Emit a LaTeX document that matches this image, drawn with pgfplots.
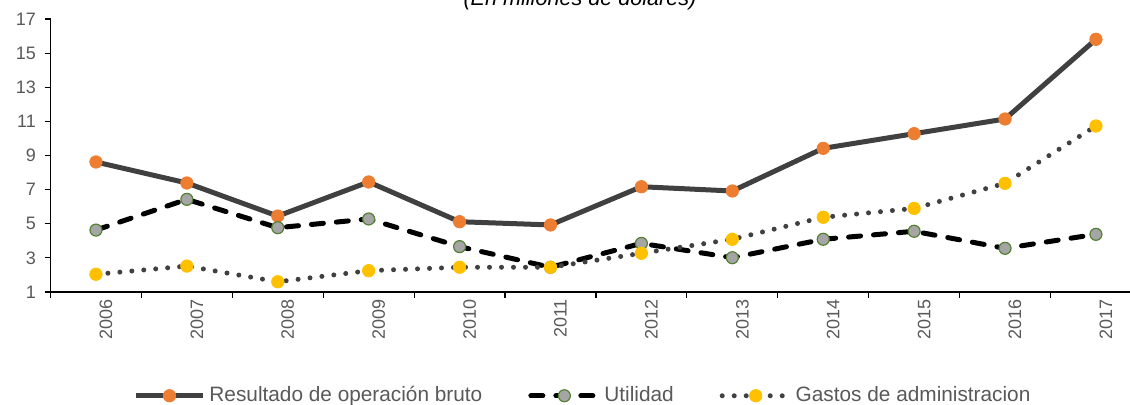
\documentclass[border=0pt]{standalone}
\usepackage{fontspec}
\setmainfont{Liberation Sans}
\usepackage{pgfplots}
\pgfplotsset{compat=1.18}
\definecolor{dk}{HTML}{404040}
\definecolor{txt}{HTML}{595959}
\definecolor{org}{HTML}{ED7D31}
\definecolor{gry}{HTML}{A5A5A5}
\definecolor{grn}{HTML}{548235}
\definecolor{yel}{HTML}{FFC000}
\begin{document}
\begin{tikzpicture}
\begin{axis}[
  name=ax, at={(0,0)}, anchor=south west,
  scale only axis, width=545.45pt, height=136.5pt,
  xmin=-0.5, xmax=11.5, ymin=1, ymax=17,
  axis lines*=left,
  axis line style={black, line width=0.6pt, -},
  tick align=outside,
  major tick length=2.8pt,
  tick style={black, line width=0.6pt},
  ytick={1,3,...,17},
  xtick={-0.5,0.5,...,11.5},
  xticklabels={},
  extra x ticks={0,1,...,11},
  extra x tick labels={2006,2007,2008,2009,2010,2011,2012,2013,2014,2015,2016,2017},
  extra x tick style={major tick length=0pt, tick style={draw=none}},
  /pgf/number format/assume math mode=true,
  tick label style={font=\fontsize{9pt}{10pt}\selectfont, text=txt},
  xticklabel style={rotate=90, anchor=east, xshift=0pt, yshift=-5pt},
  yticklabel style={anchor=east, xshift=-1pt},
  legend columns=3,
  legend style={at={(axis description cs:0.489,-0.38)}, anchor=center, draw=none, fill=none,
    font=\fontsize{10.4pt}{12pt}\selectfont, text=txt,
    /tikz/every even column/.append style={column sep=21pt}},
  legend image code/.code={\draw[mark repeat=2,mark phase=2] plot coordinates {(0pt,0pt)(16.75pt,0pt)(33.5pt,0pt)};},
  clip=false,
]
\addplot[dk, line width=2.5pt, line join=round, mark=*, mark size=3.1pt,
  mark options={fill=org, draw=org, line width=0.4pt, solid}]
  coordinates {(0,8.62)(1,7.39)(2,5.45)(3,7.45)(4,5.12)(5,4.93)(6,7.17)(7,6.92)(8,9.42)(9,10.28)(10,11.14)(11,15.81)};
\addlegendentry{Resultado de operación bruto}
\addplot[black, line width=2.5pt, line cap=round, dash pattern=on 6pt off 6.5pt, mark=*, mark size=3pt,
  mark options={fill=gry, draw=grn, line width=0.6pt, solid}]
  coordinates {(0,4.63)(1,6.43)(2,4.77)(3,5.28)(4,3.66)(5,2.45)(6,3.85)(7,3.01)(8,4.09)(9,4.56)(10,3.56)(11,4.38)};
\addlegendentry{Utilidad}
\addplot[dk, line width=2.5pt, line cap=round, dash pattern=on 0pt off 6pt, mark=*, mark size=3.1pt,
  mark options={fill=yel, draw=yel, line width=0.4pt, solid}]
  coordinates {(0,2.04)(1,2.52)(2,1.6)(3,2.25)(4,2.45)(5,2.45)(6,3.27)(7,4.09)(8,5.38)(9,5.9)(10,7.37)(11,10.73)};
\addlegendentry{Gastos de administracion}
\end{axis}
\node[anchor=base, font=\fontsize{10.8pt}{12pt}\selectfont\itshape, text=black] at (264.75pt,143.3pt) {(En millones de dolares)};
\pgfresetboundingbox
\path[use as bounding box] (ax.south west) ++(-25.25pt,-56pt) rectangle ++(565pt,202pt);
\end{tikzpicture}
\end{document}
